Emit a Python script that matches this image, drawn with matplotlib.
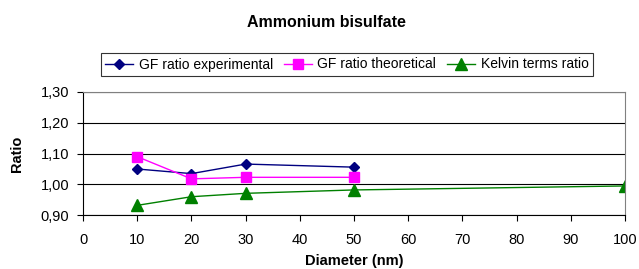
from matplotlib import pyplot as plt
from matplotlib.ticker import FuncFormatter

diam_exp = [10, 20, 30, 50]
gf_exp = [1.050, 1.035, 1.066, 1.056]
diam_theo = [10, 20, 30, 50]
gf_theo = [1.090, 1.018, 1.023, 1.023]
diam_kelvin = [10, 20, 30, 50, 100]
kelvin = [0.932, 0.960, 0.971, 0.982, 0.995]

plt.rcParams['font.family'] = ['Liberation Sans', 'DejaVu Sans']

fig = plt.figure(figsize=(6.39, 2.69), dpi=100)
ax = fig.add_axes([0.130, 0.200, 0.848, 0.458])

ax.plot(diam_exp, gf_exp, color='#000080', marker='D', markersize=5.5,
        linewidth=1, label='GF ratio experimental')
ax.plot(diam_theo, gf_theo, color='#FF00FF', marker='s', markersize=7,
        linewidth=1, label='GF ratio theoretical')
ax.plot(diam_kelvin, kelvin, color='#008000', marker='^', markersize=8,
        linewidth=1, label='Kelvin terms ratio')

ax.set_xlim(0, 100)
ax.set_ylim(0.90, 1.30)
ax.set_xticks(range(0, 101, 10))
ax.set_yticks([0.90, 1.00, 1.10, 1.20, 1.30])
ax.yaxis.set_major_formatter(FuncFormatter(lambda v, p: f'{v:.2f}'.replace('.', ',')))
ax.grid(axis='y', color='black', linewidth=0.8)
ax.set_axisbelow(True)
ax.tick_params(labelsize=10.5, length=4, width=0.8, color='black')
ax.tick_params(axis='x', pad=9)
ax.tick_params(axis='y', pad=6)
for s in ['top', 'right']:
    ax.spines[s].set_color('#808080')
for s in ['left', 'bottom']:
    ax.spines[s].set_color('black')

ax.set_xlabel('Diameter (nm)', fontsize=10.5, fontweight='bold', labelpad=5)
ax.set_ylabel('Ratio', fontsize=10.5, fontweight='bold', labelpad=12)
fig.text(326 / 639, 1 - 23 / 269, 'Ammonium bisulfate', fontsize=11.5,
         fontweight='bold', ha='center', va='center')

leg = ax.legend(loc='center', bbox_to_anchor=(347 / 639, 1 - 64.5 / 269),
                bbox_transform=fig.transFigure, ncol=3,
                fontsize=10, frameon=True, fancybox=False, edgecolor='black',
                handlelength=2.0, handletextpad=0.4, columnspacing=0.8,
                borderpad=0.35)
leg.get_frame().set_linewidth(0.8)

plt.savefig('out.png', dpi=100)
